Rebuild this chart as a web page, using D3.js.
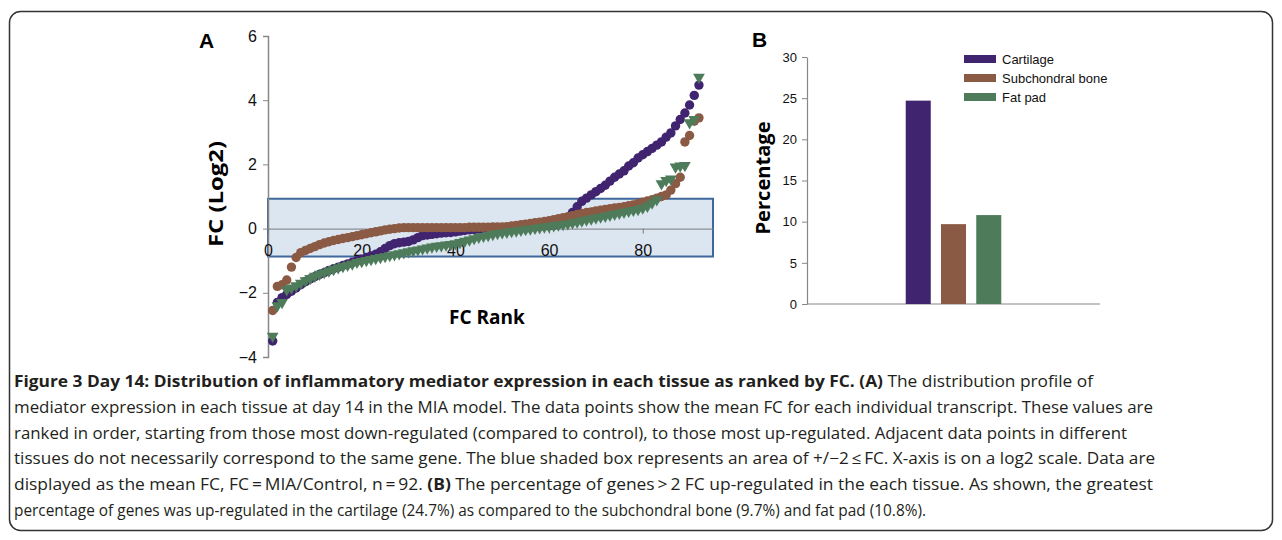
<!DOCTYPE html>
<html>
<head>
<meta charset="utf-8">
<title>Figure 3 Day 14</title>
<script src="https://d3js.org/d3.v7.min.js"></script>
<style>
  body { margin: 0; background: #fff; }
  svg { display: block; }
</style>
</head>
<body>
<div id="fig"></div>
<script>
// ---- data ----
// panel A: FC (log2) ranked, 92 transcripts per tissue
var cartilage = [
  -3.5,-2.3,-2.15,-2.05,-1.95,-1.85,-1.75,-1.65,-1.57,-1.5,
  -1.43,-1.37,-1.3,-1.25,-1.2,-1.15,-1.1,-1.05,-1.0,-0.95,
  -0.9,-0.85,-0.8,-0.72,-0.62,-0.53,-0.47,-0.44,-0.42,-0.4,
  -0.35,-0.28,-0.22,-0.2,-0.18,-0.16,-0.14,-0.13,-0.12,-0.1,
  -0.08,-0.06,-0.04,-0.03,-0.02,-0.01,0,0,0.01,0.01,
  0.02,0.02,0.03,0.03,0.04,0.05,0.06,0.07,0.08,0.09,
  0.11,0.14,0.2,0.3,0.5,0.68,0.85,0.95,1.05,1.15,
  1.25,1.35,1.48,1.6,1.7,1.8,1.95,2.05,2.2,2.3,
  2.4,2.5,2.6,2.7,2.85,2.98,3.2,3.4,3.6,3.85,
  4.15,4.47];
var subchondral = [
  -2.55,-1.8,-1.75,-1.6,-1.2,-0.9,-0.75,-0.68,-0.62,-0.56,
  -0.5,-0.45,-0.41,-0.37,-0.34,-0.31,-0.28,-0.25,-0.22,-0.19,
  -0.16,-0.13,-0.1,-0.07,-0.04,-0.02,0,0.02,0.03,0.03,
  0.03,0.03,0.03,0.03,0.03,0.03,0.03,0.03,0.03,0.03,
  0.03,0.03,0.04,0.04,0.04,0.04,0.04,0.05,0.05,0.05,
  0.06,0.08,0.1,0.12,0.14,0.16,0.18,0.2,0.22,0.25,
  0.28,0.31,0.34,0.37,0.4,0.44,0.47,0.5,0.52,0.55,
  0.57,0.6,0.62,0.64,0.66,0.68,0.71,0.74,0.78,0.82,
  0.86,0.9,0.95,1.0,1.05,1.2,1.4,1.6,2.7,2.9,
  3.35,3.45];
var fatPad = [
  -3.35,-2.4,-2.3,-1.9,-1.85,-1.78,-1.7,-1.62,-1.55,-1.48,
  -1.42,-1.37,-1.32,-1.27,-1.22,-1.18,-1.14,-1.1,-1.05,-1.02,
  -0.99,-0.96,-0.93,-0.9,-0.87,-0.84,-0.81,-0.78,-0.75,-0.72,
  -0.69,-0.66,-0.63,-0.6,-0.57,-0.55,-0.53,-0.51,-0.49,-0.47,
  -0.43,-0.39,-0.35,-0.31,-0.27,-0.24,-0.21,-0.18,-0.15,-0.13,
  -0.11,-0.09,-0.07,-0.05,-0.03,-0.01,0.01,0.03,0.05,0.07,
  0.09,0.11,0.13,0.15,0.18,0.21,0.24,0.27,0.3,0.33,
  0.36,0.39,0.42,0.45,0.48,0.51,0.54,0.57,0.6,0.64,
  0.7,0.8,0.9,1.4,1.5,1.55,1.92,1.95,1.97,3.3,
  3.4,4.72];
var rankTicks = [0, 20, 40, 60, 80];
var fcTicks = [-4, -2, 0, 2, 4, 6];
var shadedBoxFC = [-0.87, 0.93];   // the blue box, in log2 FC
var shadedBoxRank = [0, 95];

// panel B: % of genes > 2 FC up-regulated
var tissues = ["Cartilage", "Subchondral bone", "Fat pad"];
var percentUp = [24.7, 9.7, 10.8];
var pctTicks = [0, 5, 10, 15, 20, 25, 30];

var colors = ["#41246f", "#8b5a45", "#4e7c5a"];

var captionLines = [
  [["b", "Figure 3 Day 14: Distribution of inflammatory mediator expression in each tissue as ranked by FC. (A)"], ["n", " The distribution profile of"]],
  [["n", "mediator expression in each tissue at day 14 in the MIA model. The data points show the mean FC for each individual transcript. These values are"]],
  [["n", "ranked in order, starting from those most down-regulated (compared to control), to those most up-regulated. Adjacent data points in different"]],
  [["n", "tissues do not necessarily correspond to the same gene. The blue shaded box represents an area of +/\u22122\u2009\u2264\u2009FC. X-axis is on a log2 scale. Data are"]],
  [["n", "displayed as the mean FC, FC\u2009=\u2009MIA/Control, n\u2009=\u200992. "], ["b", "(B)"], ["n", " The percentage of genes\u2009>\u20092 FC up-regulated in the each tissue. As shown, the greatest"]],
  [["n", "percentage of genes was up-regulated in the cartilage (24.7%) as compared to the subchondral bone (9.7%) and fat pad (10.8%)."]]
];
var captionWidths = [1079, 1139, 1113, 1141, 1139, 912];

// ---- drawing ----
var W = 1282, H = 540;
var svg = d3.select("#fig").append("svg")
  .attr("width", W).attr("height", H);

// frame
svg.append("rect")
  .attr("x", 9.5).attr("y", 11.5)
  .attr("width", 1263).attr("height", 519)
  .attr("rx", 11)
  .attr("fill", "none").attr("stroke", "#333").attr("stroke-width", 1.5);

var axisFont = "Liberation Sans, Arial, sans-serif";
var titleFont = "Open Sans, sans-serif";

// ===== Panel A =====
var x = d3.scaleLinear().domain([0, 95]).range([268, 713]);
var y = d3.scaleLinear().domain([-4, 6]).range([357, 36]);

var gA = svg.append("g");

// shaded box
gA.append("rect")
  .attr("x", x(shadedBoxRank[0]))
  .attr("y", y(shadedBoxFC[1]))
  .attr("width", x(shadedBoxRank[1]) - x(shadedBoxRank[0]))
  .attr("height", y(shadedBoxFC[0]) - y(shadedBoxFC[1]))
  .attr("fill", "#dce6f1")
  .attr("stroke", "#41689c")
  .attr("stroke-width", 2);

// y axis
var yAxis = gA.append("g")
  .attr("transform", "translate(" + x(0) + ",0)")
  .call(d3.axisLeft(y).tickValues(fcTicks).tickSize(5).tickPadding(6));
yAxis.select(".domain").attr("stroke", "#888").attr("stroke-width", 1.5);
yAxis.selectAll(".tick line").attr("stroke", "#888");
yAxis.selectAll("text").attr("font-family", axisFont).attr("font-size", 16).attr("fill", "#111");

// x axis at FC = 0
var xAxis = gA.append("g")
  .attr("transform", "translate(0," + y(0) + ")")
  .call(d3.axisBottom(x).tickValues(rankTicks).tickSize(5).tickPadding(11).tickSizeOuter(0));
xAxis.select(".domain").attr("stroke", "#7a7a7a");
xAxis.selectAll(".tick line").attr("stroke", "#7a7a7a");
xAxis.selectAll("text").attr("font-family", axisFont).attr("font-size", 16).attr("fill", "#111");

// points
var ranks = d3.range(1, cartilage.length + 1);
function pts(vals) { return vals.map(function(v, i) { return {r: ranks[i], v: v}; }); }

gA.append("g").selectAll("circle")
  .data(pts(cartilage)).enter().append("circle")
  .attr("cx", function(d) { return x(d.r); })
  .attr("cy", function(d) { return y(d.v); })
  .attr("r", 4.7)
  .attr("fill", colors[0]);

gA.append("g").selectAll("circle")
  .data(pts(subchondral)).enter().append("circle")
  .attr("cx", function(d) { return x(d.r); })
  .attr("cy", function(d) { return y(d.v); })
  .attr("r", 4.7)
  .attr("fill", colors[1]);

var tri = d3.symbol().type(d3.symbolTriangle).size(60);
gA.append("g").selectAll("path")
  .data(pts(fatPad)).enter().append("path")
  .attr("d", tri)
  .attr("transform", function(d) { return "translate(" + x(d.r) + "," + y(d.v) + ") rotate(180)"; })
  .attr("fill", colors[2]);

// titles
gA.append("text")
  .attr("x", 199).attr("y", 48)
  .attr("font-family", axisFont).attr("font-weight", "bold").attr("font-size", 21)
  .text("A");

gA.append("text")
  .attr("transform", "translate(223,194) rotate(-90)")
  .attr("text-anchor", "middle")
  .attr("font-family", titleFont).attr("font-weight", "bold").attr("font-size", 19)
  .attr("textLength", 106).attr("lengthAdjust", "spacingAndGlyphs")
  .text("FC (Log2)");

gA.append("text")
  .attr("x", 487).attr("y", 324)
  .attr("text-anchor", "middle")
  .attr("font-family", titleFont).attr("font-weight", "bold").attr("font-size", 19)
  .text("FC Rank");

// ===== Panel B =====
var yB = d3.scaleLinear().domain([0, 30]).range([304, 57]);
var x0 = d3.scaleBand().domain(["Day 14"]).range([807, 1100]).paddingInner(0).paddingOuter(0.763);
var x1 = d3.scaleBand().domain(tissues).range([x0("Day 14"), x0("Day 14") + x0.bandwidth()]).padding(0.29);

var gB = svg.append("g");

var yAxB = gB.append("g")
  .attr("transform", "translate(807,0)")
  .call(d3.axisLeft(yB).tickValues(pctTicks).tickSize(5).tickPadding(5).tickSizeOuter(0));
yAxB.select(".domain").attr("stroke", "#888").attr("stroke-width", 1.2);
yAxB.selectAll(".tick line").attr("stroke", "#888");
yAxB.selectAll("text").attr("font-family", axisFont).attr("font-size", 13).attr("fill", "#111");

gB.append("line")
  .attr("x1", 807).attr("x2", 1100)
  .attr("y1", yB(0)).attr("y2", yB(0))
  .attr("stroke", "#888").attr("stroke-width", 1.2);

gB.selectAll("rect.bar")
  .data(tissues).enter().append("rect")
  .attr("class", "bar")
  .attr("x", function(d) { return x1(d); })
  .attr("y", function(d, i) { return yB(percentUp[i]); })
  .attr("width", x1.bandwidth())
  .attr("height", function(d, i) { return yB(0) - yB(percentUp[i]); })
  .attr("fill", function(d, i) { return colors[i]; });

// legend
var leg = gB.append("g").attr("transform", "translate(964,59)");
var legRow = leg.selectAll("g").data(tissues).enter().append("g")
  .attr("transform", function(d, i) { return "translate(0," + (i * 19) + ")"; });
legRow.append("rect")
  .attr("x", 0).attr("y", -4).attr("width", 32).attr("height", 8)
  .attr("fill", function(d, i) { return colors[i]; });
legRow.append("text")
  .attr("x", 38).attr("y", 5)
  .attr("font-family", axisFont).attr("font-size", 13).attr("fill", "#111")
  .text(function(d) { return d; });

gB.append("text")
  .attr("x", 752).attr("y", 47)
  .attr("font-family", axisFont).attr("font-weight", "bold").attr("font-size", 21)
  .text("B");

gB.append("text")
  .attr("transform", "translate(770,178) rotate(-90)")
  .attr("text-anchor", "middle")
  .attr("font-family", titleFont).attr("font-weight", "bold").attr("font-size", 20)
  .attr("textLength", 113).attr("lengthAdjust", "spacingAndGlyphs")
  .text("Percentage");

// ===== Caption =====
var cap = svg.append("g");
captionLines.forEach(function(line, i) {
  var t = cap.append("text")
    .attr("x", 14).attr("y", 387 + i * 25.8)
    .attr("font-family", titleFont).attr("font-size", 16).attr("fill", "#231f20")
    .attr("textLength", captionWidths[i]).attr("lengthAdjust", "spacingAndGlyphs");
  line.forEach(function(seg) {
    t.append("tspan")
      .attr("font-weight", seg[0] === "b" ? "bold" : "normal")
      .text(seg[1]);
  });
});
</script>
</body>
</html>
